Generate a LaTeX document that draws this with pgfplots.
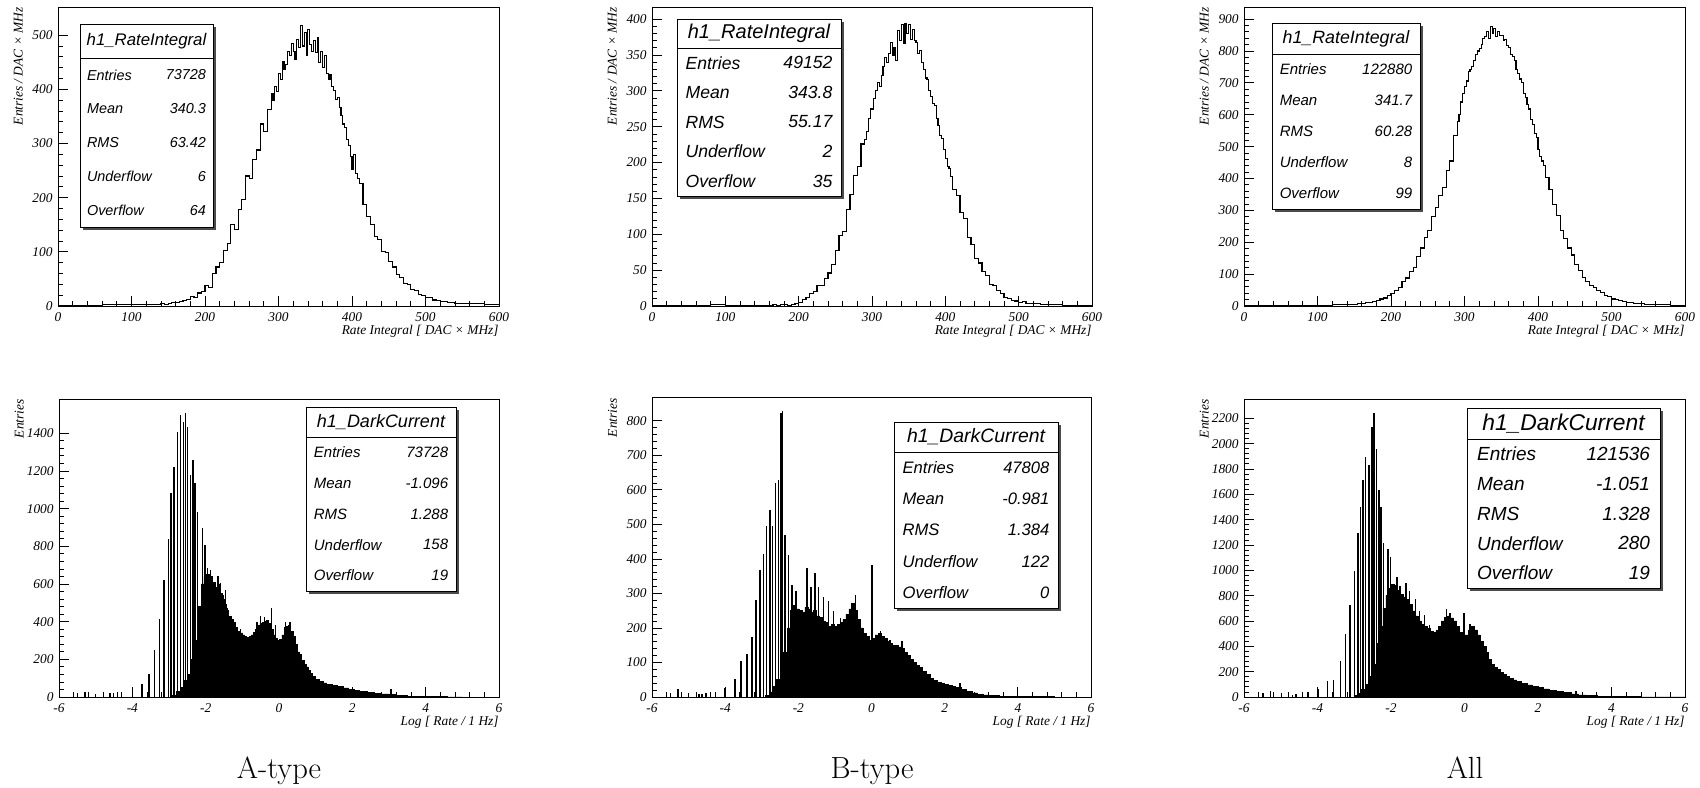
\documentclass[border=0pt]{standalone}
\usepackage{fontspec}
\usepackage{pgfplots}
\pgfplotsset{compat=1.18}
\newfontfamily\tms{Liberation Serif}
\newfontfamily\hlv{Liberation Sans}
\newcommand{\tf}{\tms\itshape\fontsize{6.7}{8}\selectfont}

\pgfplotsset{
  rootax/.style={
    scale only axis,
    axis line style={line width=0.5pt},
    xtick pos=bottom, ytick pos=left,
    tick align=inside,
    major tick length=5pt, minor tick length=2.5pt,
    tick style={line width=0.4pt, black},
    minor x tick num=4, minor y tick num=4,
    /pgf/number format/assume math mode=true,
    /pgf/number format/1000 sep={},
    ticklabel style={font=\tf},
    xticklabel style={inner sep=0pt, yshift=-3pt},
    yticklabel style={inner sep=0pt, xshift=-2.5pt},
    label style={font=\tf},
    xlabel style={at={(axis description cs:1,-0.064)}, anchor=north east, inner sep=0pt},
    ylabel style={at={(axis description cs:-0.079,1)}, anchor=south east, inner sep=0pt},
    ymin=0,
  },
  toprow/.style={rootax, xmin=0, xmax=600, xtick={0,100,...,600},
    xlabel={Rate Integral [ DAC × MHz]}, ylabel={Entries / DAC × MHz}},
  botrow/.style={rootax, xmin=-6, xmax=6, xtick={-6,-4,...,6},
    xlabel={Log [ Rate / 1 Hz]}, ylabel={Entries}},
}

% stats box: x1,y1,x2,y2,separator y,title size,row size,title,rows
\newcommand{\statbox}[9]{%
  \fill[black!70] (#1+2.5,#2+2.5) rectangle (#3+2.5,#4+2.5);
  \draw[fill=white, line width=0.5pt] (#1,#2) rectangle (#3,#4);
  \draw[line width=0.5pt] (#1,#5) -- (#3,#5);
  \node[font=\hlv\itshape\fontsize{#6}{#6}\selectfont, inner sep=0pt]
    at ({(#1+#3)/2},{(#2+#5)/2}) {#8};
  \foreach \lab/\val [count=\i] in {#9} {
    \pgfmathsetmacro\ry{#5+(\i-0.5)*(#4-#5)/5}
    \pgfmathsetmacro\pd{0.05*(#3-#1)}
    \node[font=\hlv\itshape\fontsize{#7}{#7}\selectfont, anchor=west, inner sep=0pt]
      at (#1+\pd,\ry) {\lab};
    \node[font=\hlv\itshape\fontsize{#7}{#7}\selectfont, anchor=east, inner sep=0pt]
      at (#3-\pd,\ry) {\val};
  }
}

\begin{document}
\begin{tikzpicture}[x=0.5pt, y=-0.5pt]
\path[use as bounding box] (0,0) rectangle (1700,787);

% ---------- top row: rate integral ----------
\begin{axis}[toprow, at={(29pt,-153pt)}, anchor=south west, width=220.5pt, height=149.5pt,
  ymax=552, ytick={0,100,...,500}]
\addplot[const plot, black, line width=0.55pt] coordinates {
(0,1)(20,1)(40,1)(60,2)(80,2)(100,2)(120,3)(140,4)(145,3)(150,5)(155,6)(160,6)(165,9)
(170,10)(175,12)(180,17)(185,16)(190,24)(195,27)(200,38)(205,34)(210,60)(215,72)(220,80)
(225,102)(230,116)(235,150)(240,142)(245,178)(250,196)(255,240)(260,236)(265,270)(270,288)
(275,336)(280,322)(285,362)
(290,392)(292.5,380)(295,405)(297.5,396)(300,430)(302.5,418)(305,452)(307.5,436)
(310,446)(312.5,470)(315,462)(317.5,484)(320,470)(322.5,455)(325,492)(327.5,478)
(330,518)(332.5,480)(335,505)(337.5,462)(340,510)(342.5,482)(345,470)(347.5,490)
(350,468)(352.5,495)(355,450)(357.5,470)(360,440)(362.5,462)(365,430)(367.5,418)
(370,428)(372.5,405)(375,398)(377.5,382)(380,385)(382.5,366)(385,352)(387.5,336)
(390,330)(392.5,308)(395,296)(397.5,276)(400,252)(402.5,280)(405,244)(407.5,236)
(410,226)(415,188)(420,166)
(425,150)(430,128)(435,122)(440,100)(445,98)(450,82)(455,72)(460,58)(465,52)(470,42)
(475,40)(480,30)(485,28)(490,22)(495,20)(500,16)(505,15)(510,11)(515,10)(520,9)(525,8)
(530,6)(535,7)(540,5)(545,5)(550,4)(555,5)(560,4)(580,3)(600,3)};
\end{axis}

\begin{axis}[toprow, at={(326pt,-153pt)}, anchor=south west, width=220pt, height=149.5pt,
  ymax=417, ytick={0,50,...,400}]
\addplot[const plot, black, line width=0.55pt] coordinates {
(0,0)(20,1)(40,1)(60,1)(80,2)(100,1)(120,1)(140,1)(160,1)(165,2)(170,1)(175,2)(180,2)
(185,1)(190,2)(195,3)(200,5)(205,9)(210,12)(215,18)(220,20)(225,28)(230,29)(235,38)
(240,46)(245,58)(250,78)(255,98)(260,104)(265,134)(270,155)(275,182)(280,195)(285,226)
(290,232)(292.5,244)(295,262)(297.5,276)(300,274)(302.5,290)(305,300)(307.5,312)
(310,306)(312.5,322)(315,334)(317.5,346)(320,340)(322.5,352)(325,368)(327.5,350)
(330,360)(332.5,342)(335,384)(337.5,370)(340,392)(342.5,366)(345,394)(347.5,380)
(350,392)(352.5,372)(355,386)(357.5,370)(360,368)(362.5,352)(365,356)(367.5,340)
(370,330)(372.5,318)(375,316)(377.5,300)(380,292)(382.5,282)(385,280)(387.5,262)
(390,252)(392.5,238)(395,234)(397.5,218)(400,206)(402.5,194)(405,192)(407.5,180)
(410,162)(415,154)(420,130)(425,122)(430,96)(435,86)
(440,66)(445,60)(450,48)(455,42)(460,30)(465,28)(470,21)(475,18)(480,12)(485,11)(490,8)
(495,7)(500,5)(505,6)(510,4)(515,4)(520,3)(530,2)(540,2)(560,1)(580,1)(600,1)};
\end{axis}

\begin{axis}[toprow, at={(622pt,-153pt)}, anchor=south west, width=220.5pt, height=149.5pt,
  ymax=938, ytick={0,100,...,900}]
\addplot[const plot, black, line width=0.55pt] coordinates {
(0,1)(20,1)(40,2)(60,2)(80,3)(100,3)(120,4)(140,5)(145,6)(150,6)(155,8)(160,8)(165,10)
(170,12)(175,15)(180,18)(185,22)(190,25)(195,33)(200,38)(205,50)(210,57)(215,78)(220,88)
(225,108)(230,120)(235,155)(240,182)(245,214)(250,236)(255,280)(260,308)(265,346)(270,372)
(275,425)(280,455)(285,535)
(290,580)(292.5,600)(295,640)(297.5,668)(300,690)(302.5,706)(305,736)(307.5,742)
(310,752)(312.5,770)(315,790)(317.5,800)(320,808)(322.5,820)(325,838)(327.5,846)
(330,862)(332.5,840)(335,878)(337.5,855)(340,870)(342.5,845)(345,862)(347.5,850)
(350,848)(352.5,832)(355,836)(357.5,818)(360,810)(362.5,790)(365,782)(367.5,770)
(370,742)(372.5,730)(375,712)(377.5,700)(380,668)(382.5,655)(385,632)(387.5,618)
(390,585)(392.5,570)(395,542)(397.5,528)(400,490)(402.5,470)(405,455)(407.5,440)
(410,402)(415,366)(420,318)
(425,284)(430,236)(435,212)(440,182)(445,160)(450,130)(455,112)(460,90)(465,78)(470,64)
(475,57)(480,48)(485,41)(490,32)(495,29)(500,22)(505,20)(510,16)(515,15)(520,12)(525,11)
(530,9)(535,8)(540,7)(545,6)(550,5)(555,5)(560,4)(580,3)(600,3)};
\end{axis}

% ---------- bottom row: dark current ----------
\begin{axis}[botrow, at={(29.5pt,-348.5pt)}, anchor=south west, width=220pt, height=149pt,
  ymax=1582, ytick={0,200,...,1400}]
\addplot[const plot, fill=black, draw=black, line width=0.3pt] coordinates {
(-2.90,10)(-2.80,30)(-2.70,50)(-2.60,90)(-2.50,120)(-2.40,200)(-2.30,300)(-2.20,480)
(-2.12,600)(-2.05,640)(-1.97,650)(-1.90,640)(-1.83,610)(-1.75,580)(-1.68,600)(-1.61,550)
(-1.55,520)(-1.49,490)(-1.43,460)(-1.37,430)(-1.31,410)(-1.25,390)(-1.19,370)(-1.13,350)
(-1.06,340)(-1.00,330)(-0.94,320)(-0.88,315)(-0.82,320)(-0.76,330)(-0.70,345)(-0.64,360)
(-0.58,380)(-0.52,390)(-0.46,395)(-0.40,400)(-0.34,405)(-0.28,390)(-0.22,360)(-0.16,330)
(-0.10,310)(-0.04,300)(0.02,305)(0.08,330)(0.14,370)(0.20,375)(0.26,380)(0.32,350)
(0.38,320)(0.44,280)(0.50,240)(0.56,220)(0.62,195)(0.68,175)(0.74,160)(0.80,140)
(0.86,125)(0.92,110)(1.00,95)(1.10,85)(1.20,75)(1.30,65)(1.45,60)(1.60,55)(1.75,48)
(1.90,40)(2.05,36)(2.20,30)(2.40,25)(2.60,20)(2.80,16)(3.00,12)(3.20,8)(3.50,5)
(3.80,3)(4.20,2)(4.60,1)(5.00,0)} \closedcycle;
\addplot[ycomb, black, line width=0.75pt] coordinates {
(-5.50,21)(-5.29,25)(-5.00,18)(-4.61,21)(-4.52,20)(-4.29,25)(-4.00,46)(-3.74,70)
(-3.55,120)(-3.40,249)(-3.26,415)(-3.13,622)(-3.02,838)(-2.95,1085)(-2.86,1223)
(-2.77,1405)(-2.69,1497)(-2.60,1461)(-2.55,1506)(-2.49,1435)(-2.42,1179)(-2.35,1258)
(-2.29,1135)(-2.22,984)(-2.09,896)(-2.02,807)(-1.955,684)(-1.87,675)(-1.81,640)
(-1.745,586)(-1.67,640)(-1.60,604)(-1.52,542)(-1.455,569)(-1.40,472)(-1.30,430)
(-1.20,400)(-1.05,360)(-0.95,330)(-0.60,400)(-0.50,430)(-0.40,425)(-0.20,472)
(-0.10,380)(0.18,400)(0.30,400)(0.45,300)(0.60,230)(2.00,50)(3.05,40)};
\end{axis}

\begin{axis}[botrow, at={(326pt,-348.5pt)}, anchor=south west, width=219.5pt, height=149.5pt,
  ymax=866, ytick={0,100,...,800}]
\addplot[const plot, fill=black, draw=black, line width=0.3pt] coordinates {
(-2.90,5)(-2.80,15)(-2.70,30)(-2.60,50)(-2.50,80)(-2.40,130)(-2.30,200)(-2.22,250)
(-2.14,265)(-2.06,255)(-1.98,250)(-1.90,245)(-1.82,260)(-1.74,255)(-1.66,245)(-1.58,250)
(-1.50,235)(-1.42,230)(-1.34,220)(-1.26,215)(-1.18,205)(-1.10,210)(-1.02,205)(-0.94,210)
(-0.86,215)(-0.78,225)(-0.70,240)(-0.62,255)(-0.54,270)(-0.46,250)(-0.38,225)(-0.30,200)
(-0.22,185)(-0.14,175)(-0.06,165)(0.02,170)(0.10,180)(0.18,185)(0.26,175)(0.34,170)
(0.42,160)(0.50,155)(0.58,150)(0.66,150)(0.74,145)(0.82,140)(0.90,130)(0.98,120)
(1.06,110)(1.14,100)(1.22,92)(1.30,85)(1.40,75)(1.50,65)(1.60,55)(1.70,48)(1.80,42)
(1.90,40)(2.00,36)(2.10,33)(2.20,30)(2.30,27)(2.45,22)(2.60,17)(2.75,12)(2.90,8)
(3.05,6)(3.20,4)(3.50,2)(3.80,1)(4.50,1)(5.00,0)} \closedcycle;
\addplot[ycomb, black, line width=0.75pt] coordinates {
(-5.50,12)(-5.29,23)(-5.00,12)(-4.71,8)(-4.63,10)(-4.52,12)(-4.27,14)(-4.00,26)
(-3.73,53)(-3.57,103)(-3.41,124)(-3.27,174)(-3.16,282)(-3.05,368)(-2.95,414)
(-2.865,494)(-2.77,542)(-2.70,494)(-2.63,620)(-2.54,629)(-2.48,822)(-2.43,827)
(-2.36,470)(-2.27,412)(-2.18,325)(-2.06,306)(-1.77,374)(-1.66,320)(-1.54,359)
(-1.45,320)(-1.31,291)(-1.17,277)(-1.04,248)(-0.85,229)(-0.67,233)(-0.54,262)
(-0.44,296)(-0.26,200)(0.01,381)(0.24,190)(0.51,166)(0.83,161)(2.42,41)};
\end{axis}

\begin{axis}[botrow, at={(622pt,-348.5pt)}, anchor=south west, width=220.5pt, height=149pt,
  ymax=2352, ytick={0,200,...,2200}]
\addplot[const plot, fill=black, draw=black, line width=0.3pt] coordinates {
(-3.00,10)(-2.90,30)(-2.80,60)(-2.70,100)(-2.60,160)(-2.50,260)(-2.40,420)(-2.30,560)
(-2.22,700)(-2.14,800)(-2.06,860)(-1.98,890)(-1.90,880)(-1.82,840)(-1.74,810)(-1.66,790)
(-1.58,770)(-1.50,730)(-1.42,680)(-1.34,640)(-1.26,600)(-1.18,575)(-1.10,555)(-1.02,540)
(-0.94,520)(-0.86,510)(-0.78,525)(-0.70,560)(-0.62,600)(-0.54,630)(-0.46,640)(-0.38,625)
(-0.30,600)(-0.22,560)(-0.14,510)(-0.06,480)(0.02,490)(0.10,530)(0.18,555)(0.26,530)
(0.34,490)(0.42,440)(0.50,400)(0.58,350)(0.66,300)(0.74,260)(0.82,235)(0.90,215)
(0.98,195)(1.06,180)(1.14,165)(1.22,150)(1.32,135)(1.42,122)(1.55,108)(1.70,95)
(1.85,85)(2.00,76)(2.15,64)(2.30,55)(2.50,45)(2.70,34)(2.90,25)(3.10,17)(3.30,12)
(3.60,7)(3.90,4)(4.30,3)(4.80,1)(5.20,1)(6.00,1)} \closedcycle;
\addplot[ycomb, black, line width=0.75pt] coordinates {
(-5.48,31)(-5.28,50)(-4.98,31)(-4.68,18)(-4.59,26)(-4.26,37)(-3.985,66)(-3.73,129)
(-3.56,137)(-3.38,281)(-3.24,497)(-3.12,723)(-3.00,991)(-2.90,1298)(-2.83,1503)
(-2.76,1714)(-2.70,1897)(-2.60,1832)(-2.52,2129)(-2.46,2239)(-2.40,1955)(-2.33,1635)
(-2.27,1498)(-2.20,1214)(-2.08,1169)(-2.01,1109)(-1.84,951)(-1.75,873)(-1.59,899)
(-1.50,833)(-1.33,775)(-1.23,675)(-1.09,649)(-0.95,570)(-0.49,694)(-0.40,662)
(-0.01,662)(0.15,580)(3.03,45)(4.00,71)};
\end{axis}

% ---------- stats boxes ----------
\statbox{80}{24}{213}{227}{58}{8.4}{7.2}{h1\_RateIntegral}
  {Entries/73728, Mean/340.3, RMS/63.42, Underflow/6, Overflow/64}
\statbox{677}{19}{841}{196}{48}{10}{8.8}{h1\_RateIntegral}
  {Entries/49152, Mean/343.8, RMS/55.17, Underflow/2, Overflow/35}
\statbox{1272}{23}{1420}{209}{54}{8.9}{7.5}{h1\_RateIntegral}
  {Entries/122880, Mean/341.7, RMS/60.28, Underflow/8, Overflow/99}
\statbox{306}{407}{456}{591}{437}{9}{7.5}{h1\_DarkCurrent}
  {Entries/73728, Mean/-1.096, RMS/1.288, Underflow/158, Overflow/19}
\statbox{894}{422}{1058}{608}{452}{9.7}{8.3}{h1\_DarkCurrent}
  {Entries/47808, Mean/-0.981, RMS/1.384, Underflow/122, Overflow/0}
\statbox{1467}{408}{1660}{588}{439}{11.4}{9.5}{h1\_DarkCurrent}
  {Entries/121536, Mean/-1.051, RMS/1.328, Underflow/280, Overflow/19}

% ---------- captions ----------
\node[font=\fontsize{15.3}{18}\selectfont, anchor=base] at (279,778) {A-type};
\node[font=\fontsize{15.3}{18}\selectfont, anchor=base] at (872,778) {B-type};
\node[font=\fontsize{15.3}{18}\selectfont, anchor=base] at (1465,778) {All};
\end{tikzpicture}
\end{document}
